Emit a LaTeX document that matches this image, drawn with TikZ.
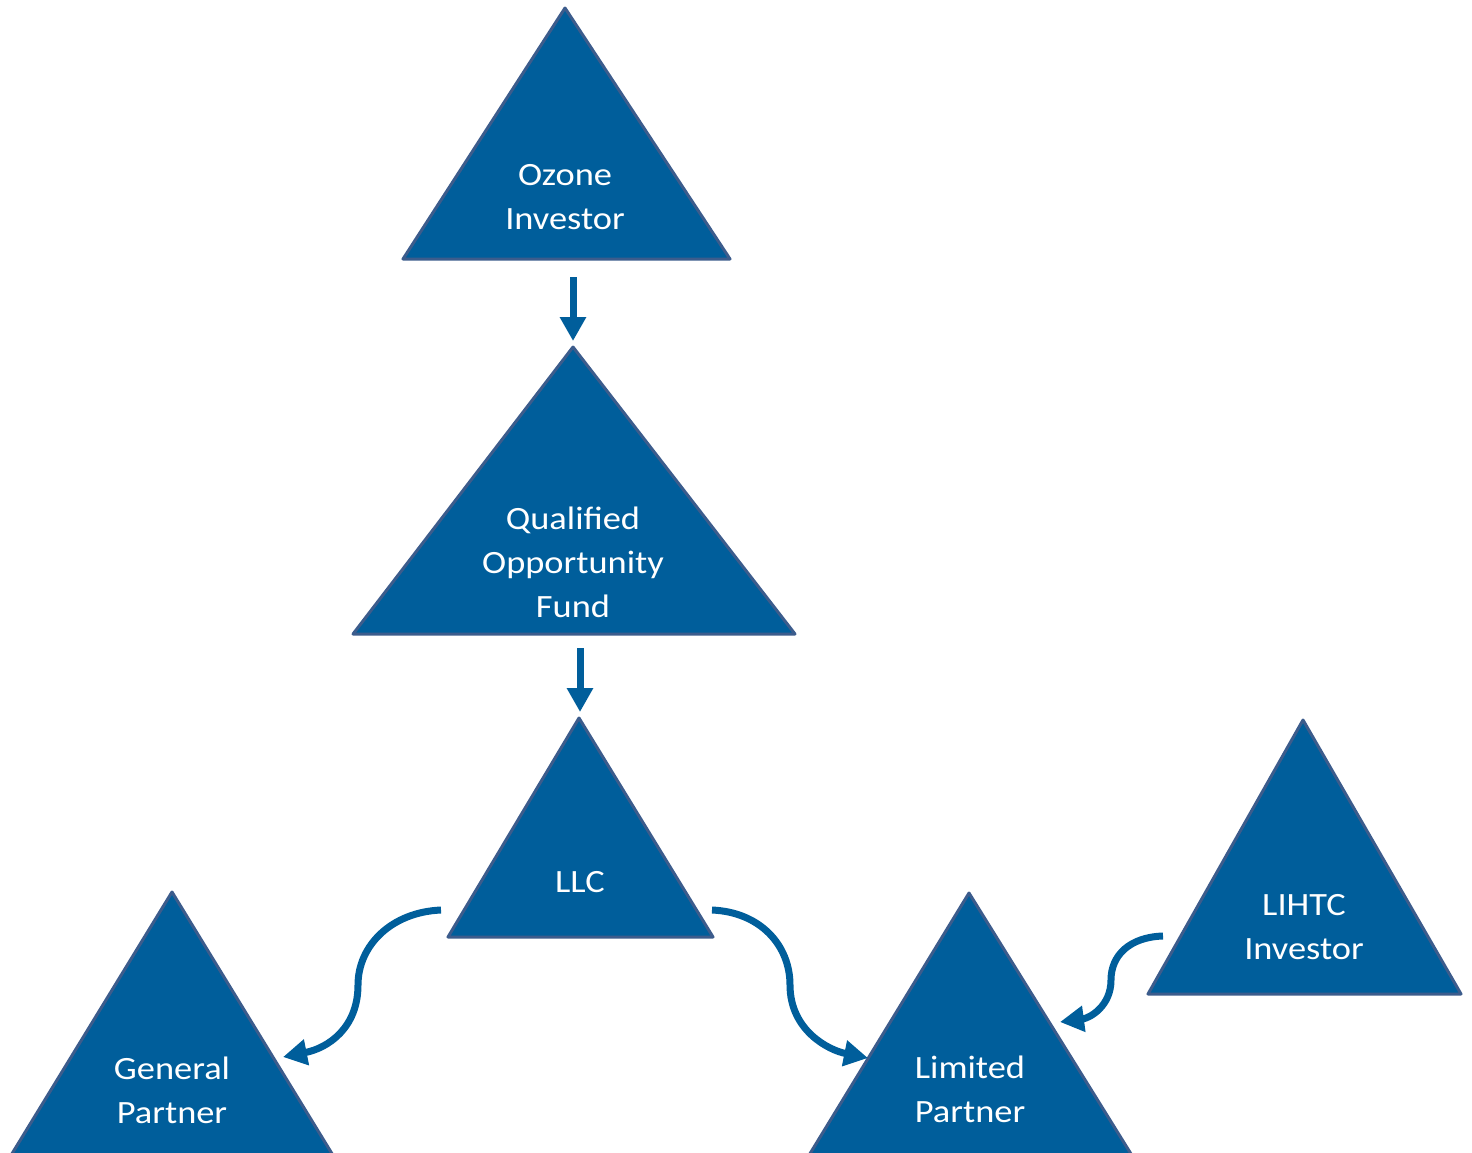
\documentclass[tikz,border=0pt]{standalone}
\usepackage{fontspec}
\setmainfont{Carlito}[FakeStretch=1.12]
\usetikzlibrary{arrows.meta}
\definecolor{tfill}{RGB}{0,94,155}
\definecolor{tedge}{RGB}{60,92,140}
\definecolor{arr}{RGB}{0,94,155}
\begin{document}
\begin{tikzpicture}[x=1pt,y=-1pt,
  tri/.style={fill=tfill,draw=tedge,line width=3pt,line join=round},
  lbl/.style={text=white,align=center,font=\fontsize{32.5}{44}\selectfont,inner sep=0pt},
  conn/.style={draw=arr,line width=7pt,-{Triangle[width=25pt,length=24pt]}}]
\useasboundingbox (0,0) rectangle (1472,1152);
% triangles
\draw[tri] (565,8) -- (730,259) -- (403,259) -- cycle;
\draw[tri] (573,347) -- (795,634) -- (353,634) -- cycle;
\draw[tri] (579,718) -- (713,937) -- (448,937) -- cycle;
\draw[tri] (172,892) -- (342,1170) -- (2,1170) -- cycle;
\draw[tri] (969,893) -- (1141,1170) -- (800,1170) -- cycle;
\draw[tri] (1303,720) -- (1461,994) -- (1148,994) -- cycle;
% labels
\node[lbl] (oz) at (565,197) {Ozone\\Investor};
\node[lbl] (qof) at (573,562) {Qualified\\Opportunity\\Fund};
\node[lbl] (llc) at (580,882) {LLC};
\node[lbl] (gp) at (172,1090) {General\\Partner};
\node[lbl] (lp) at (970,1089) {Limited\\Partner};
\node[lbl] (lihtc) at (1304,927) {LIHTC\\Investor};
% connector end points
\coordinate (a1s) at (573,277);
\coordinate (a1e) at (573,341);
\coordinate (a2s) at (580,648);
\coordinate (a2e) at (580,712);
\coordinate (gps) at (441,910);
\coordinate (gpe) at (283,1057);
\coordinate (lps) at (712,910);
\coordinate (lpe) at (868,1058);
\coordinate (lis) at (1163,936);
\coordinate (lie) at (1060,1022);
% connectors
\draw[conn] (a1s) -- (a1e);
\draw[conn] (a2s) -- (a2e);
\draw[conn] (gps) .. controls (392,912) and (358,945) .. (358,985) .. controls (358,1028) and (328,1048) .. (gpe);
\draw[conn] (lps) .. controls (760,912) and (790,945) .. (790,985) .. controls (790,1030) and (828,1050) .. (lpe);
\draw[conn] (lis) .. controls (1130,937) and (1111,955) .. (1111,980) .. controls (1111,1006) and (1090,1018) .. (lie);
\end{tikzpicture}
\end{document}
